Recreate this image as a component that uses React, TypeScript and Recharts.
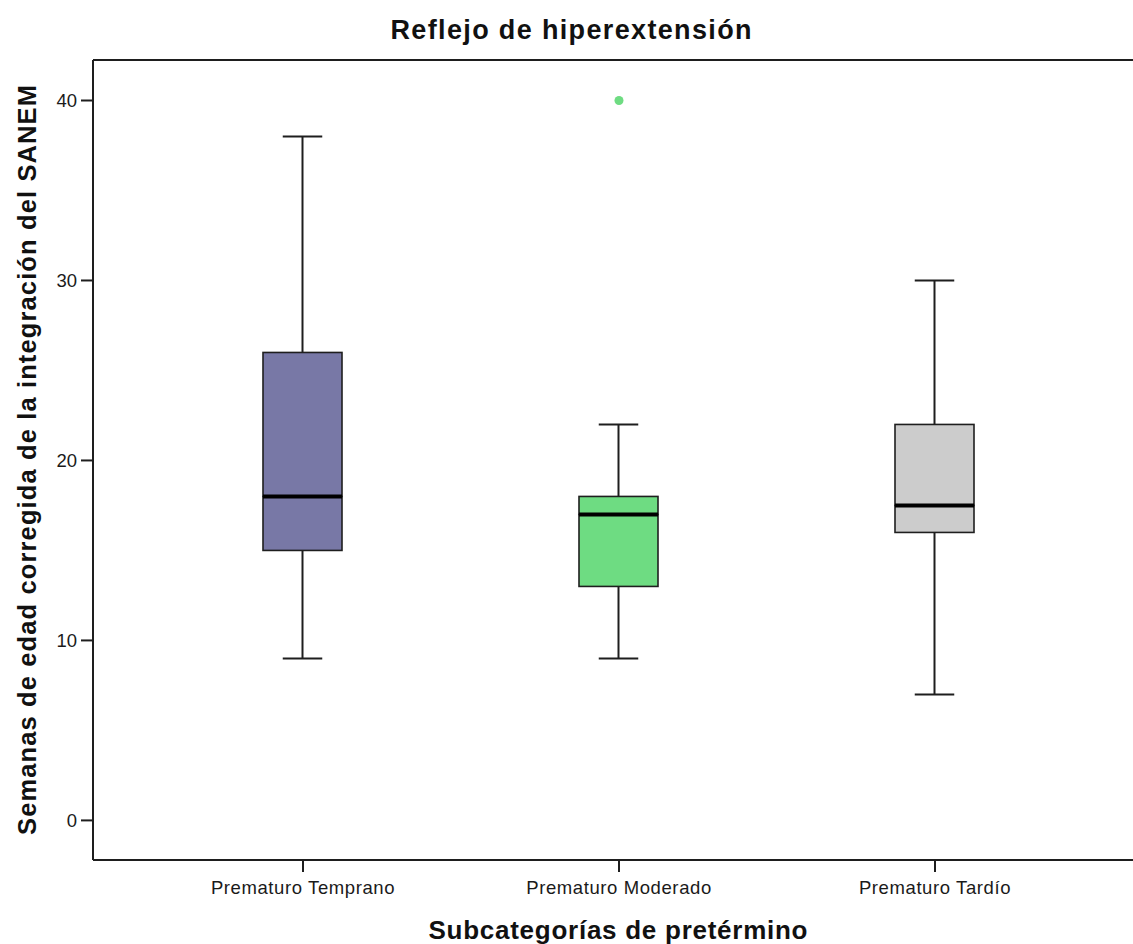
import { ComposedChart, Bar, Scatter, XAxis, YAxis, ReferenceLine } from 'recharts'

// five-number summaries per preterm subcategory
const categories = ['Prematuro Temprano', 'Prematuro Moderado', 'Prematuro Tardío']
const minValues = [9, 9, 7]
const q1Values = [15, 13, 16]
const medianValues = [18, 17, 17.5]
const q3Values = [26, 18, 22]
const maxValues = [38, 22, 30]
const outliers = [{ group: 2, value: 40 }]
const boxColors = ['#7878A6', '#6EDC82', '#CCCCCC']
const yTicks = [0, 10, 20, 30, 40]

const Y_MIN = -2.2
const Y_MAX = 42.25
const INK = '#1e1e1e'
const FONT = '"Liberation Sans", Arial, sans-serif'

// stacked segments: invisible base, lower whisker, lower box half, upper box half, upper whisker
const data = categories.map((name, i) => ({
  x: i + 1,
  name,
  color: boxColors[i],
  base: minValues[i],
  lowWhisker: q1Values[i] - minValues[i],
  lowBox: medianValues[i] - q1Values[i],
  highBox: q3Values[i] - medianValues[i],
  highWhisker: maxValues[i] - q3Values[i],
}))

const outlierPoints = outliers.map((o) => ({ x: o.group, y: o.value, color: boxColors[o.group - 1] }))

const LowWhisker = (props: any) => {
  const { x, y, width, height } = props
  const cx = x + width / 2
  const bottom = y + height
  return (
    <g>
      <line x1={cx} x2={cx} y1={y} y2={bottom} stroke={INK} strokeWidth={2} />
      <line x1={cx - width / 4} x2={cx + width / 4} y1={bottom} y2={bottom} stroke={INK} strokeWidth={2} />
    </g>
  )
}

const HighWhisker = (props: any) => {
  const { x, y, width, height } = props
  const cx = x + width / 2
  return (
    <g>
      <line x1={cx} x2={cx} y1={y} y2={y + height} stroke={INK} strokeWidth={2} />
      <line x1={cx - width / 4} x2={cx + width / 4} y1={y} y2={y} stroke={INK} strokeWidth={2} />
    </g>
  )
}

const LowBox = (props: any) => {
  const { x, y, width, height, payload } = props
  return <rect x={x} y={y} width={width} height={height} fill={payload.color} stroke={INK} strokeWidth={1.6} />
}

// upper half of the box, with the median drawn along its lower edge
const HighBox = (props: any) => {
  const { x, y, width, height, payload } = props
  return (
    <g>
      <rect x={x} y={y} width={width} height={height} fill={payload.color} stroke={INK} strokeWidth={1.6} />
      <line x1={x} x2={x + width} y1={y + height} y2={y + height} stroke="#000" strokeWidth={4} />
    </g>
  )
}

const OutlierDot = (props: any) => {
  const { cx, cy, payload } = props
  return <circle cx={cx} cy={cy} r={4.5} fill={payload.color} />
}

export default function App() {
  return (
    <div style={{ position: 'absolute', left: 0, top: 0, width: 1133, height: 944, background: '#fff' }}>
      <ComposedChart
        width={1133}
        height={944}
        data={data}
        margin={{ top: 60, right: 0, bottom: 0, left: 0 }}
      >
        <XAxis
          dataKey="x"
          type="number"
          domain={[1 - 210 / 316, 3 + 198 / 316]}
          ticks={[1, 2, 3]}
          allowDataOverflow
          tickFormatter={(v: number) => categories[v - 1] ?? ''}
          height={84}
          tickSize={12}
          tickMargin={9}
          axisLine={{ stroke: INK, strokeWidth: 2 }}
          tickLine={{ stroke: INK, strokeWidth: 2 }}
          tick={{ fill: '#1a1a1a', fontSize: 18.5, fontFamily: FONT, letterSpacing: 0.6 }}
        />
        <YAxis
          type="number"
          domain={[Y_MIN, Y_MAX]}
          ticks={yTicks}
          allowDataOverflow
          width={93}
          tickSize={12}
          tickMargin={4}
          axisLine={{ stroke: INK, strokeWidth: 2 }}
          tickLine={{ stroke: INK, strokeWidth: 2 }}
          tick={{ fill: '#1a1a1a', fontSize: 18.5, fontFamily: FONT }}
        />
        <ReferenceLine y={Y_MAX} stroke={INK} strokeWidth={2} ifOverflow="visible" />
        <Bar dataKey="base" stackId="box" barSize={79} fill="transparent" isAnimationActive={false} />
        <Bar dataKey="lowWhisker" stackId="box" barSize={79} shape={LowWhisker} isAnimationActive={false} />
        <Bar dataKey="lowBox" stackId="box" barSize={79} shape={LowBox} isAnimationActive={false} />
        <Bar dataKey="highBox" stackId="box" barSize={79} shape={HighBox} isAnimationActive={false} />
        <Bar dataKey="highWhisker" stackId="box" barSize={79} shape={HighWhisker} isAnimationActive={false} />
        <Scatter data={outlierPoints} dataKey="y" shape={OutlierDot} isAnimationActive={false} />
      </ComposedChart>
      <svg
        width={1133}
        height={944}
        style={{ position: 'absolute', left: 0, top: 0, pointerEvents: 'none' }}
        fontFamily={FONT}
        fontWeight="bold"
        fill="#111"
      >
        <text x={571} y={39} textAnchor="middle" fontSize={27} textLength={361} lengthAdjust="spacing">
          Reflejo de hiperextensión
        </text>
        <text x={618} y={939} textAnchor="middle" fontSize={26} textLength={379} lengthAdjust="spacing">
          Subcategorías de pretérmino
        </text>
        <text
          x={36}
          y={460}
          textAnchor="middle"
          fontSize={25.5}
          textLength={750}
          lengthAdjust="spacing"
          transform="rotate(-90 36 460)"
        >
          Semanas de edad corregida de la integración del SANEM
        </text>
      </svg>
    </div>
  )
}
